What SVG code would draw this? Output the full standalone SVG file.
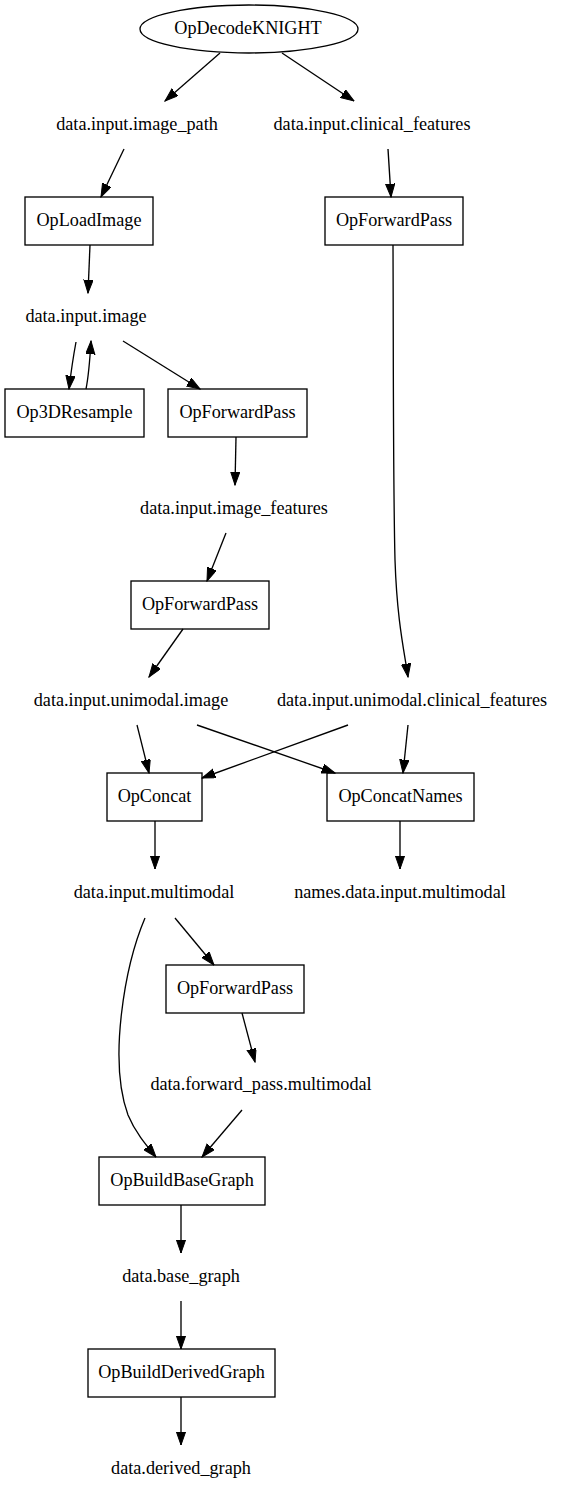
<svg xmlns="http://www.w3.org/2000/svg" width="563" height="1499" viewBox="0 0 563 1499">
<style>
text{font-family:'Liberation Serif','Times New Roman',serif;font-size:18.2px;text-anchor:middle;fill:#000}
.n{fill:none;stroke:#000;stroke-width:1.33}
.e{fill:none;stroke:#000;stroke-width:1.33;marker-end:url(#ah)}
</style>
<defs>
<marker id="ah" markerUnits="userSpaceOnUse" markerWidth="14" markerHeight="10" refX="13.3" refY="4.67" orient="auto" viewBox="0 0 14 10">
<path d="M0,0 L13.3,4.67 L0,9.33 Z" fill="#000" stroke="#000" stroke-width="1"/>
</marker>
</defs>
<rect width="563" height="1499" fill="#fff"/>
<g id="edges">
<path class="e" d="M220,53 L165,101"/>
<path class="e" d="M282,53 L354,101"/>
<path class="e" d="M124,149 L101,197"/>
<path class="e" d="M388,149 L391,197"/>
<path class="e" d="M90,245 L88,293"/>
<path class="e" d="M393,245 C393.5,350 393,480 395,560 C397,620 404,650 408,677"/>
<path class="e" d="M76,342 C73,358 71,372 69,389"/>
<path class="e" d="M86,389 C89,374 90,358 91,341"/>
<path class="e" d="M123,341 L200,389"/>
<path class="e" d="M236,437 L235,485"/>
<path class="e" d="M226,533 L207,581"/>
<path class="e" d="M183,629 L149,677"/>
<path class="e" d="M137,725 L149,773"/>
<path class="e" d="M197,725 L335,773"/>
<path class="e" d="M348,725 L202,778"/>
<path class="e" d="M408,725 L403,773"/>
<path class="e" d="M155,821 L155,869"/>
<path class="e" d="M400,821 L400,869"/>
<path class="e" d="M175,918 L214,965"/>
<path class="e" d="M145,918 C125,965 108,1060 128,1115 C135,1132 146,1145 156,1157"/>
<path class="e" d="M242,1013 L255,1062"/>
<path class="e" d="M242,1110 L202,1157"/>
<path class="e" d="M181,1205 L181,1253"/>
<path class="e" d="M181,1301 L181,1349"/>
<path class="e" d="M181,1397 L181,1445"/>
</g>
<g id="OpDecodeKNIGHT"><ellipse class="n" cx="249" cy="29" rx="109" ry="24"/><text x="248" y="34">OpDecodeKNIGHT</text></g>
<g id="data_input_image_path"><text x="137" y="130">data.input.image_path</text></g>
<g id="data_input_clinical_features"><text x="372" y="130">data.input.clinical_features</text></g>
<g id="OpLoadImage"><rect class="n" x="25" y="197" width="128" height="48"/><text x="89" y="226">OpLoadImage</text></g>
<g id="OpForwardPass_1"><rect class="n" x="325" y="197" width="138" height="48"/><text x="394" y="226">OpForwardPass</text></g>
<g id="data_input_image"><text x="86" y="322">data.input.image</text></g>
<g id="Op3DResample"><rect class="n" x="5" y="389" width="139" height="48"/><text x="74.5" y="418">Op3DResample</text></g>
<g id="OpForwardPass_2"><rect class="n" x="168" y="389" width="139" height="48"/><text x="237.5" y="418">OpForwardPass</text></g>
<g id="data_input_image_features"><text x="234" y="514">data.input.image_features</text></g>
<g id="OpForwardPass_3"><rect class="n" x="131" y="581" width="138" height="48"/><text x="200" y="610">OpForwardPass</text></g>
<g id="data_input_unimodal_image"><text x="131" y="706">data.input.unimodal.image</text></g>
<g id="data_input_unimodal_clinical_features"><text x="412" y="706">data.input.unimodal.clinical_features</text></g>
<g id="OpConcat"><rect class="n" x="107" y="773" width="95" height="48"/><text x="154.5" y="802">OpConcat</text></g>
<g id="OpConcatNames"><rect class="n" x="327" y="773" width="147" height="48"/><text x="400.5" y="802">OpConcatNames</text></g>
<g id="data_input_multimodal"><text x="154" y="898">data.input.multimodal</text></g>
<g id="names_data_input_multimodal"><text x="400" y="898">names.data.input.multimodal</text></g>
<g id="OpForwardPass_4"><rect class="n" x="166" y="965" width="138" height="48"/><text x="235" y="994">OpForwardPass</text></g>
<g id="data_forward_pass_multimodal"><text x="261" y="1090">data.forward_pass.multimodal</text></g>
<g id="OpBuildBaseGraph"><rect class="n" x="99" y="1157" width="166" height="48"/><text x="182" y="1186">OpBuildBaseGraph</text></g>
<g id="data_base_graph"><text x="181" y="1282">data.base_graph</text></g>
<g id="OpBuildDerivedGraph"><rect class="n" x="88" y="1349" width="187" height="48"/><text x="181.5" y="1378">OpBuildDerivedGraph</text></g>
<g id="data_derived_graph"><text x="181" y="1474">data.derived_graph</text></g>
</svg>
